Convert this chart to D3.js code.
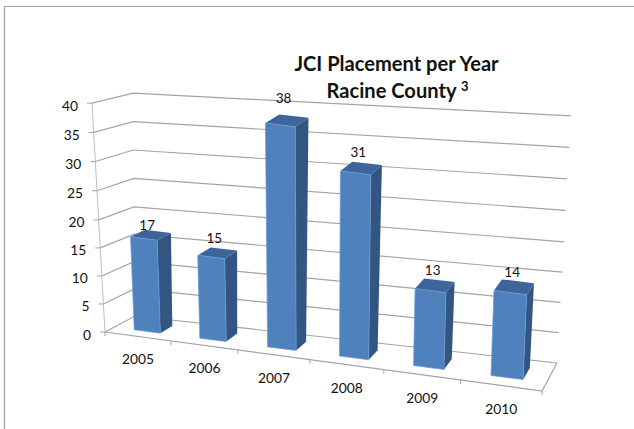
<!DOCTYPE html>
<html><head><meta charset="utf-8">
<script src="https://cdn.jsdelivr.net/npm/d3@7"></script>
<style>html,body{margin:0;padding:0;background:#fff}svg{display:block}text{font-family:Lato,"Open Sans",sans-serif;fill:#111}</style>
</head><body><svg id="c" width="634" height="429"></svg>
<script>
const categories = ["2005","2006","2007","2008","2009","2010"];
const values = [17,15,38,31,13,14];
const valueTicks = [0,5,10,15,20,25,30,35,40];
const titleLines = ["JCI Placement per Year","Racine County"];
const titleNote = "3";
const labelLift = [5,10,17,10,8,7];

const svg = d3.select("#c");
const lerp = d3.interpolateNumber;
// Oblique chart box, expressed as scales
const frac = d3.scaleLinear().domain([0,1,2,3,4,5,6]).range([0,.151,.304,.469,.638,.814,1]);
const xFront = d3.scaleLinear().domain([0,1]).range([105,542]);
const yFront = d3.scaleLinear().domain([0,1]).range([332,391]);
const xBack = d3.scaleLinear().domain([0,1]).range([135,557]);
const yBack = d3.scaleLinear().domain([0,1]).range([316,363]);
const leanFront = d3.scaleLinear().domain([0,1]).range([-.325,.25]);
const leanBack = d3.scaleLinear().domain([0,1]).range([-.05,.35]);
const riseFront = d3.scaleLinear().domain([0,1]).range([5.72,6.1]);
const riseBack = d3.scaleLinear().domain([0,1]).range([5.57,6.18]);
const gridWarp = d3.scaleLinear().domain([0,20,40]).range([0,19.6,40]);
const barRise = d3.scaleLinear().domain([0,1,2,3,4,5]).range([5.47,5.53,5.89,5.97,5.92,6.07]);

function project(u,v,d,rise){
  const f = frac(u);
  const x0 = lerp(xFront(f),xBack(f))(d), y0 = lerp(yFront(f),yBack(f))(d);
  const lean = lerp(leanFront(f),leanBack(f))(d);
  const r = rise===undefined ? lerp(riseFront(f),riseBack(f))(d) : rise;
  return [x0+lean*v, y0-r*v];
}
const line = d3.line();
const grid = "#a4a4a4";

// outer frame
svg.append("path").attr("d","M4.5,429V6.5H634").attr("fill","none").attr("stroke","#a0a0a0").attr("stroke-width",1.2);

// gridlines
svg.append("g").selectAll("path").data(valueTicks).join("path")
  .attr("d",v=>{const w=gridWarp(v);return line([project(0,w,0),project(0,w,1),project(6,w,1)]);})
  .attr("fill","none").attr("stroke",grid).attr("stroke-width",1.2);
// left axis and ticks
svg.append("path").attr("d",line([project(0,0,0),project(0,40,0)])).attr("fill","none").attr("stroke","#bdbdbd").attr("stroke-width",1);
svg.append("g").selectAll("path").data(valueTicks).join("path")
  .attr("d",v=>{const p=project(0,gridWarp(v),0);return line([[p[0]-5,p[1]],p]);})
  .attr("stroke",grid).attr("stroke-width",1);
// floor
svg.append("path").attr("d",line([project(0,0,0),project(6,0,0),project(6,0,1)])).attr("fill","none").attr("stroke",grid).attr("stroke-width",1.2);
svg.append("g").selectAll("path").data(d3.range(0,7)).join("path")
  .attr("d",u=>{const p=project(u,0,0);return line([p,[p[0],p[1]+4]]);})
  .attr("stroke",grid).attr("stroke-width",1);

// bars
const uL=.31,uR=.71,dF=.3,dB=.72;
const bars = svg.append("g").selectAll("g").data(values).join("g");
const face=(i,v,pts)=>line(pts.map(p=>project(i+p[0],p[1]*v,p[2],barRise(i))))+"Z";
bars.append("path").attr("fill","#335581")
  .attr("d",(v,i)=>face(i,v,[[uR,0,dF],[uR,0,dB],[uR,1,dB],[uR,1,dF]]));
bars.append("path").attr("fill","#3d659b")
  .attr("d",(v,i)=>face(i,v,[[uL,1,dF],[uR,1,dF],[uR,1,dB],[uL,1,dB]]));
bars.append("path").attr("fill","#4f81bd").attr("stroke","#6a9ad6").attr("stroke-width",.7)
  .attr("d",(v,i)=>face(i,v,[[uL,0,dF],[uR,0,dF],[uR,1,dF],[uL,1,dF]]));

// data labels
svg.append("g").selectAll("text").data(values).join("text")
  .attr("font-size",13.5).attr("text-anchor","middle").attr("dominant-baseline","central")
  .attr("x",(v,i)=>project(i+(uL+uR)/2,v,dF+.1,barRise(i))[0])
  .attr("y",(v,i)=>project(i+uL,v,dB,barRise(i))[1]-labelLift[i])
  .text(v=>v);

// value labels
svg.append("g").selectAll("text").data(valueTicks).join("text")
  .attr("font-size",13.8).attr("text-anchor","end").attr("dominant-baseline","central")
  .attr("x",v=>project(0,gridWarp(v),0)[0]-14)
  .attr("y",v=>project(0,gridWarp(v),0)[1]+2)
  .text(v=>v);
// category labels
svg.append("g").selectAll("text").data(categories).join("text")
  .attr("font-size",13.8).attr("text-anchor","middle").attr("dominant-baseline","central")
  .attr("x",(c,i)=>project(i+.5,0,0)[0])
  .attr("y",(c,i)=>project(i+.5,0,0)[1]+22.5)
  .text(c=>c);
// title
const t = svg.append("g").attr("font-weight",700).attr("font-size",20.1);
t.append("text").attr("x",396.5).attr("y",71).attr("text-anchor","middle").attr("font-weight",700).text(titleLines[0]);
const t2 = t.append("text").attr("x",397.5).attr("y",98).attr("text-anchor","middle").attr("font-weight",700);
t2.append("tspan").text(titleLines[1]+" ");
t2.append("tspan").attr("font-size",13).attr("dy",-7).text(titleNote);
</script></body></html>
